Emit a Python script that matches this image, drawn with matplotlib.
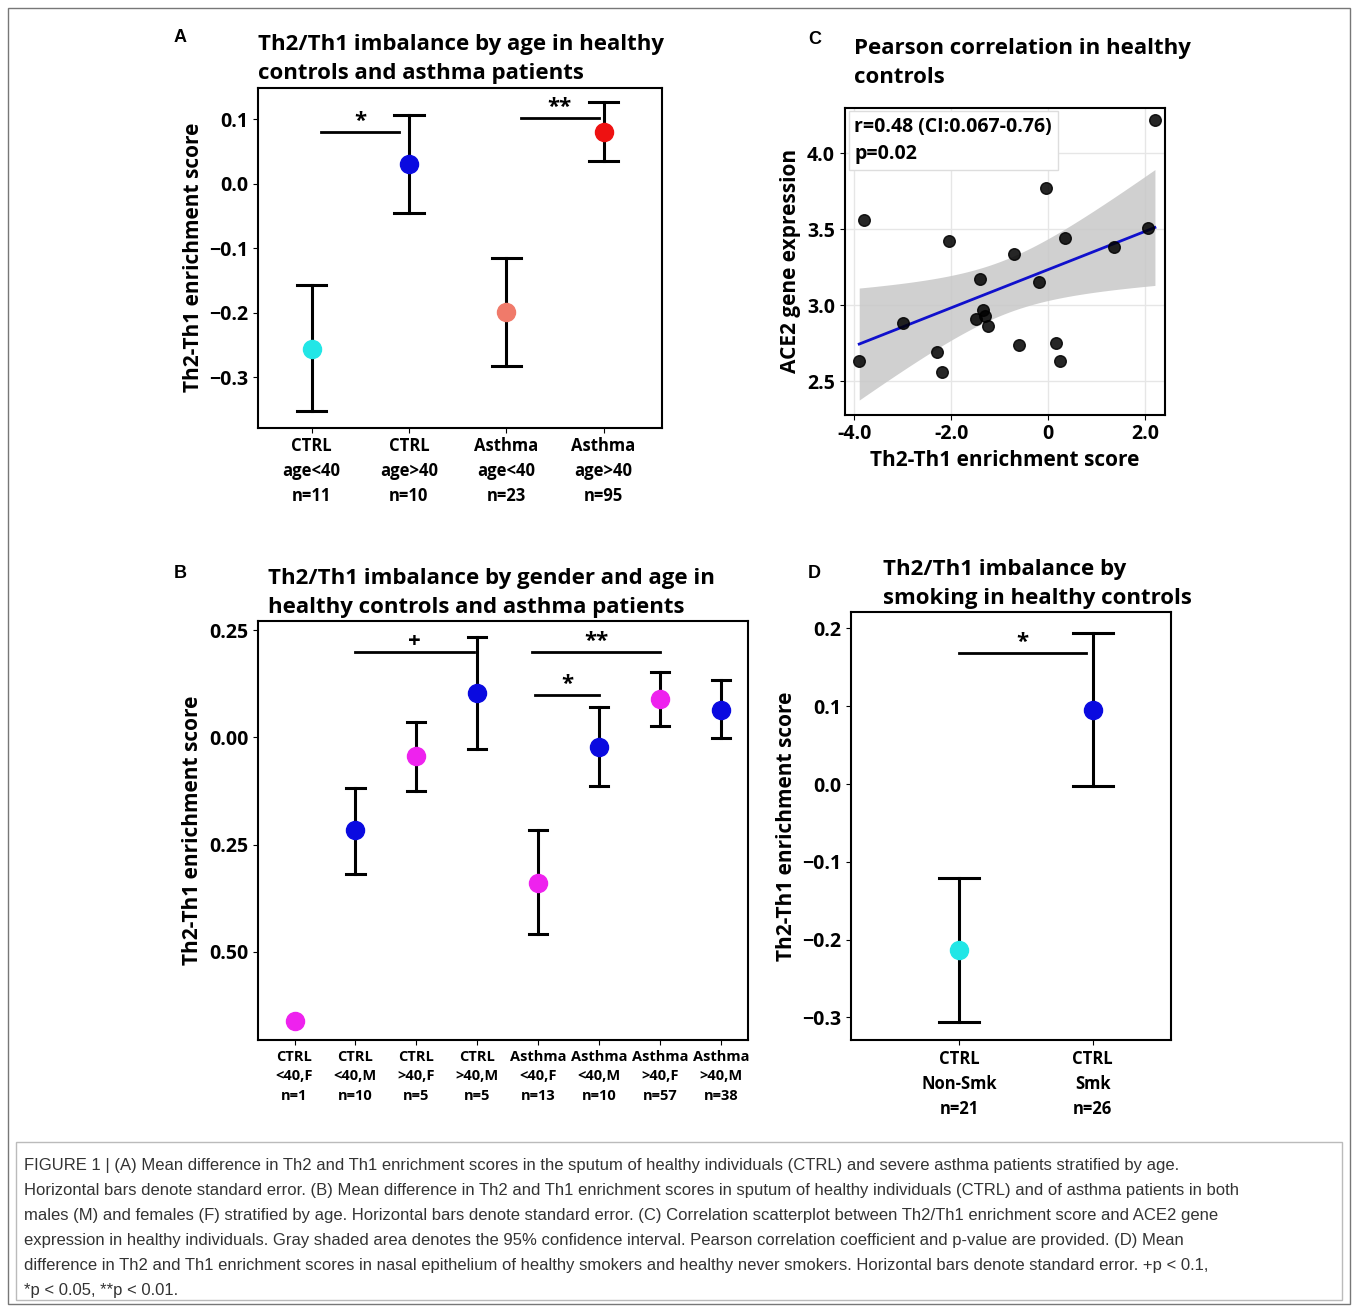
import matplotlib.pyplot as plt
import numpy as np
from matplotlib.patches import Rectangle

plt.rcParams['font.family'] = ['Open Sans', 'DejaVu Sans']
plt.rcParams['font.weight'] = 'bold'

# Panel A
a_labels = ['CTRL\nage<40\nn=11', 'CTRL\nage>40\nn=10', 'Asthma\nage<40\nn=23', 'Asthma\nage>40\nn=95']
a_mean = [-0.256, 0.031, -0.198, 0.081]
a_lo = [-0.352, -0.045, -0.282, 0.036]
a_hi = [-0.157, 0.107, -0.115, 0.126]
a_col = ['#22e6e6', '#0a0ae0', '#f07a6a', '#ee1111']

# Panel B
b_labels = ['CTRL\n<40,F\nn=1', 'CTRL\n<40,M\nn=10', 'CTRL\n>40,F\nn=5', 'CTRL\n>40,M\nn=5',
            'Asthma\n<40,F\nn=13', 'Asthma\n<40,M\nn=10', 'Asthma\n>40,F\nn=57', 'Asthma\n>40,M\nn=38']
b_mean = [-0.663, -0.217, -0.044, 0.103, -0.339, -0.023, 0.089, 0.065]
b_lo = [np.nan, -0.320, -0.126, -0.028, -0.460, -0.114, 0.026, -0.002]
b_hi = [np.nan, -0.117, 0.037, 0.234, -0.217, 0.070, 0.152, 0.133]
b_col = ['#ee22ee', '#0a0ae0', '#ee22ee', '#0a0ae0', '#ee22ee', '#0a0ae0', '#ee22ee', '#0a0ae0']
b_ticks = [0.25, 0.0, -0.25, -0.5]
b_ticklabels = ['0.25', '0.00', '0.25', '0.50']

# Panel C
c_x = [-3.9, -3.8, -3.0, -2.3, -2.2, -2.05, -1.4, -1.5, -1.35, -1.3, -1.25,
       -0.7, -0.6, -0.2, -0.05, 0.15, 0.25, 0.35, 1.35, 2.05, 2.2]
c_y = [2.63, 3.56, 2.88, 2.69, 2.56, 3.42, 3.17, 2.91, 2.97, 2.93, 2.86,
       3.34, 2.74, 3.15, 3.77, 2.75, 2.63, 3.44, 3.38, 3.51, 4.22]

# Panel D
d_labels = ['CTRL\nNon-Smk\nn=21', 'CTRL\nSmk\nn=26']
d_mean = [-0.213, 0.095]
d_lo = [-0.306, -0.003]
d_hi = [-0.121, 0.194]
d_col = ['#22e6e6', '#0a0ae0']

fig = plt.figure(figsize=(13.58, 13.08), dpi=100)
fig.patches.append(Rectangle((0.006, 0.003), 0.988, 0.991, transform=fig.transFigure,
                             fill=False, ec='#777777', lw=1))


def dot_panel(ax, means, lo, hi, cols, labels, ms, xlsize):
    x = np.arange(len(means))
    for i in x:
        if not np.isnan(lo[i]):
            ax.plot([i, i], [lo[i], hi[i]], color='black', lw=2.2)
            ax.plot([i - 0.15, i + 0.15], [lo[i]] * 2, color='black', lw=2.2)
            ax.plot([i - 0.15, i + 0.15], [hi[i]] * 2, color='black', lw=2.2)
        ax.plot(i, means[i], 'o', color=cols[i], ms=ms, zorder=3)
    ax.set_xticks(x)
    ax.set_xticklabels(labels, fontsize=xlsize, fontweight='bold', linespacing=1.5)
    ax.set_xlim(-0.5, len(means) - 0.5)
    ax.set_ylabel('Th2-Th1 enrichment score', fontsize=15, fontweight='bold')
    ax.tick_params(axis='y', labelsize=14)
    for s in ax.spines.values():
        s.set_linewidth(1.5)


def sig(ax, x0, x1, y, txt):
    ax.plot([x0, x1], [y, y], color='black', lw=2)
    ax.text((x0 + x1) / 2, y, txt, ha='center', va='bottom', fontsize=16, fontweight='bold')


# A
axA = fig.add_axes([0.190, 0.673, 0.2975, 0.26])
dot_panel(axA, a_mean, a_lo, a_hi, a_col, a_labels, 13, 12)
axA.set_ylim(-0.378, 0.149)
axA.set_yticks([0.1, 0.0, -0.1, -0.2, -0.3])
axA.set_xlim(-0.55, 3.6)
sig(axA, 0.1, 0.9, 0.08, '*')
sig(axA, 2.15, 2.95, 0.102, '**')
axA.set_title('Th2/Th1 imbalance by age in healthy\ncontrols and asthma patients', fontsize=16,
              fontweight='bold', loc='left', x=0.0, pad=6, linespacing=1.5)

# B
axB = fig.add_axes([0.190, 0.205, 0.361, 0.320])
dot_panel(axB, b_mean, b_lo, b_hi, b_col, b_labels, 13, 10.5)
axB.set_ylim(-0.706, 0.271)
axB.set_yticks(b_ticks)
axB.set_yticklabels(b_ticklabels)
axB.set_xlim(-0.6, 7.45)
sig(axB, 1.0, 2.95, 0.2, '+')
sig(axB, 3.9, 6.0, 0.2, '**')
sig(axB, 3.95, 5.0, 0.1, '*')
axB.set_title('Th2/Th1 imbalance by gender and age in\nhealthy controls and asthma patients', fontsize=16,
              fontweight='bold', loc='left', x=0.02, pad=6, linespacing=1.5)

# C
axC = fig.add_axes([0.622, 0.683, 0.2356, 0.2347])
cx = np.array(c_x)
cy = np.array(c_y)
slope, icpt = np.polyfit(cx, cy, 1)
xs = np.linspace(cx.min(), cx.max(), 100)
n = len(cx)
res = cy - (slope * cx + icpt)
s = np.sqrt(np.sum(res ** 2) / (n - 2))
se = s * np.sqrt(1 / n + (xs - cx.mean()) ** 2 / np.sum((cx - cx.mean()) ** 2))
fit = slope * xs + icpt
axC.fill_between(xs, fit - 2.09 * se, fit + 2.09 * se, color='#c8c8c8', alpha=0.85, lw=0)
axC.plot(xs, fit, color='#1010cc', lw=2)
axC.scatter(cx, cy, s=70, color='black', alpha=0.85, zorder=3)
axC.set_xlim(-4.2, 2.4)
axC.set_ylim(2.28, 4.3)
axC.set_xticks([-4, -2, 0, 2])
axC.set_xticklabels(['-4.0', '-2.0', '0', '2.0'])
axC.set_yticks([2.5, 3.0, 3.5, 4.0])
axC.grid(color='#e6e6e6', lw=1)
axC.set_axisbelow(True)
axC.tick_params(labelsize=14)
axC.set_xlabel('Th2-Th1 enrichment score', fontsize=15, fontweight='bold')
axC.set_ylabel('ACE2 gene expression', fontsize=15, fontweight='bold')
for sp in axC.spines.values():
    sp.set_linewidth(1.5)
axC.text(0.03, 0.97, 'r=0.48 (CI:0.067-0.76)\np=0.02', transform=axC.transAxes, va='top',
         fontsize=14, fontweight='bold', linespacing=1.5,
         bbox=dict(fc='white', ec='#dddddd', pad=4))
axC.set_title('Pearson correlation in healthy\ncontrols', fontsize=16,
              fontweight='bold', loc='left', x=0.03, pad=18, linespacing=1.5)

# D
axD = fig.add_axes([0.627, 0.205, 0.2356, 0.327])
dot_panel(axD, d_mean, d_lo, d_hi, d_col, d_labels, 13, 12)
axD.set_ylim(-0.329, 0.221)
axD.set_yticks([0.2, 0.1, 0.0, -0.1, -0.2, -0.3])
axD.set_xlim(-0.81, 1.59)
sig(axD, 0.0, 0.95, 0.168, '*')
axD.set_title('Th2/Th1 imbalance by\nsmoking in healthy controls', fontsize=16,
              fontweight='bold', loc='left', x=0.1, pad=6, linespacing=1.5)

for lab, x, y in [('A', 0.128, 0.968), ('B', 0.128, 0.558), ('C', 0.595, 0.966), ('D', 0.595, 0.558)]:
    fig.text(x, y, lab, fontsize=13, fontweight='bold', family='Liberation Sans')

# caption
fig.patches.append(Rectangle((0.012, 0.006), 0.976, 0.121, transform=fig.transFigure,
                             fill=False, ec='#bbbbbb', lw=1))
cap = [
    'FIGURE 1 | (A) Mean difference in Th2 and Th1 enrichment scores in the sputum of healthy individuals (CTRL) and severe asthma patients stratified by age.',
    'Horizontal bars denote standard error. (B) Mean difference in Th2 and Th1 enrichment scores in sputum of healthy individuals (CTRL) and of asthma patients in both',
    'males (M) and females (F) stratified by age. Horizontal bars denote standard error. (C) Correlation scatterplot between Th2/Th1 enrichment score and ACE2 gene',
    'expression in healthy individuals. Gray shaded area denotes the 95% confidence interval. Pearson correlation coefficient and p-value are provided. (D) Mean',
    'difference in Th2 and Th1 enrichment scores in nasal epithelium of healthy smokers and healthy never smokers. Horizontal bars denote standard error. +p < 0.1,',
    '*p < 0.05, **p < 0.01.',
]
for i, line in enumerate(cap):
    fig.text(0.018, 0.109 - i * 0.0191, line, fontsize=12, fontweight='normal',
             family='Liberation Sans', color='#333333', va='center')

fig.savefig('out.png', dpi=100)
